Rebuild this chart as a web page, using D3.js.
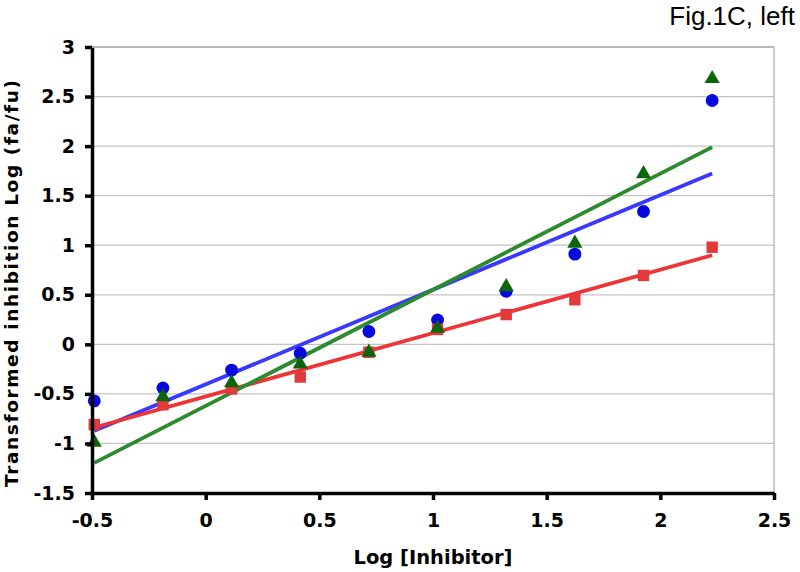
<!DOCTYPE html>
<html><head><meta charset="utf-8">
<script src="https://cdn.jsdelivr.net/npm/d3@7"></script>
<style>body{margin:0;background:#fff;} svg{display:block;}</style>
</head><body>
<svg id="chart" width="800" height="572"></svg>
<script>
const logInhibitor = [-0.49, -0.188, 0.114, 0.416, 0.718, 1.02, 1.322, 1.624, 1.926, 2.228];
const blueCircles = [-0.57, -0.44, -0.26, -0.09, 0.13, 0.245, 0.535, 0.91, 1.34, 2.46];
const redSquares = [-0.81, -0.61, -0.45, -0.33, -0.08, 0.15, 0.30, 0.45, 0.695, 0.98];
const greenTriangles = [-0.99, -0.53, -0.39, -0.20, -0.08, 0.16, 0.58, 1.02, 1.72, 2.68];
const xTicks = [-0.5, 0, 0.5, 1, 1.5, 2, 2.5];
const yTicks = [-1.5, -1, -0.5, 0, 0.5, 1, 1.5, 2, 2.5, 3];
const titleText = "Fig.1C, left";
const xTitle = "Log [Inhibitor]";
const yTitle = "Transformed inhibition Log (fa/fu)";

const series = [
  {name:"blue", values: blueCircles, shape: d3.symbolCircle, size: 130, marker:"#0808dc", line:"#3838ff"},
  {name:"red", values: redSquares, shape: d3.symbolSquare, size: 130, marker:"#e03a3a", line:"#ee3434"},
  {name:"green", values: greenTriangles, shape: d3.symbolTriangle, size: 100, marker:"#0b650b", line:"#2e8a2e"}
];
const lineOrder = ["blue", "red", "green"];

const svg = d3.select("#chart");
const L = 92, R = 774, T = 47, B = 493;
const x = d3.scaleLinear().domain([-0.5, 2.5]).range([L, R]);
const y = d3.scaleLinear().domain([-1.5, 3]).range([B, T]);

// gridlines
svg.append("g").selectAll("line").data(yTicks.filter(v => v > -1.5)).join("line")
  .attr("x1", L).attr("x2", R).attr("y1", d => y(d)).attr("y2", d => y(d))
  .attr("stroke", "#c4c4c4").attr("stroke-width", 1.3);
// right border
svg.append("line").attr("x1", R).attr("x2", R).attr("y1", T).attr("y2", B)
  .attr("stroke", "#b0b0b0").attr("stroke-width", 1.3);

// regression lines
function fit(xs, ys) {
  const mx = d3.mean(xs), my = d3.mean(ys);
  let sxy = 0, sxx = 0;
  xs.forEach((xv, i) => { sxy += (xv - mx) * (ys[i] - my); sxx += (xv - mx) ** 2; });
  const b = sxy / sxx;
  return xv => my + b * (xv - mx);
}
const xExt = d3.extent(logInhibitor);
lineOrder.forEach(n => {
  const s = series.find(t => t.name === n);
  const f = fit(logInhibitor, s.values);
  svg.append("path")
    .attr("d", d3.line().x(d => x(d)).y(d => y(f(d)))(xExt))
    .attr("stroke", s.line).attr("stroke-width", 3.8).attr("fill", "none");
});

// markers
series.forEach(s => {
  svg.append("g").selectAll("path").data(s.values).join("path")
    .attr("transform", (d, i) => `translate(${x(logInhibitor[i])},${y(d)})`)
    .attr("d", d3.symbol().type(s.shape).size(s.size))
    .attr("fill", s.marker);
});

// axes
const font = "'DejaVu Sans', Verdana, sans-serif";
const fmt = d => String(d);
const xAxis = svg.append("g").attr("transform", `translate(0,${B})`)
  .call(d3.axisBottom(x).tickValues(xTicks).tickFormat(fmt).tickSize(7).tickSizeOuter(0).tickPadding(14));
const yAxis = svg.append("g").attr("transform", `translate(${L},0)`)
  .call(d3.axisLeft(y).tickValues(yTicks).tickFormat(fmt).tickSize(7).tickSizeOuter(0).tickPadding(10));
[xAxis, yAxis].forEach(a => {
  a.select(".domain").attr("stroke", "#000").attr("stroke-width", 3.5);
  a.selectAll(".tick line").attr("stroke", "#000").attr("stroke-width", 3.5);
  a.selectAll(".tick text").attr("fill", "#000").attr("font-family", font)
    .attr("font-weight", "bold").attr("font-size", 19);
});
// top border over grid
svg.append("line").attr("x1", L).attr("x2", R).attr("y1", T).attr("y2", T)
  .attr("stroke", "#b0b0b0").attr("stroke-width", 1.3);

// titles
svg.append("text").attr("x", 433).attr("y", 564).attr("text-anchor", "middle")
  .attr("font-family", font).attr("font-weight", "bold").attr("font-size", 19.5).text(xTitle);
svg.append("text").attr("transform", "translate(18,283.5) rotate(-90)").attr("text-anchor", "middle")
  .attr("font-family", font).attr("font-weight", "bold").attr("font-size", 18.5)
  .attr("textLength", 407).attr("lengthAdjust", "spacing").text(yTitle);
svg.append("text").attr("x", 795).attr("y", 25).attr("text-anchor", "end")
  .attr("font-family", "'Liberation Sans', Arial, sans-serif").attr("font-size", 26).text(titleText);
</script>
</body></html>
